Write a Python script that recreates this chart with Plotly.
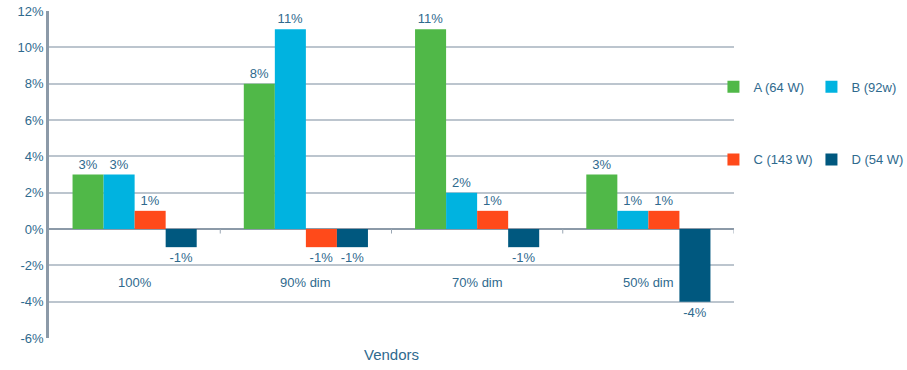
import plotly.graph_objects as go

categories = ["100%", "90% dim", "70% dim", "50% dim"]
series_names = ["A (64 W)", "B (92w)", "C (143 W)", "D (54 W)"]
series_values = {
    "A (64 W)": [3, 8, 11, 3],
    "B (92w)": [3, 11, 2, 1],
    "C (143 W)": [1, -1, 1, 1],
    "D (54 W)": [-1, -1, -1, -4],
}
colors = ["#50B848", "#00B3E0", "#FF4A1A", "#00587F"]
y_ticks = [-6, -4, -2, 0, 2, 4, 6, 8, 10, 12]
y_tick_labels = [f"{v}%" for v in y_ticks]

TEXT = "#2F6A8E"
FONT = "Liberation Sans, Arial, sans-serif"

fig = go.Figure()
for i, name in enumerate(series_names):
    vals = series_values[name]
    fig.add_trace(go.Bar(
        x=categories, y=vals, name=name,
        marker=dict(color=colors[i], line=dict(width=0)),
        text=[f"{v}%" for v in vals], textposition="outside",
        textfont=dict(color=TEXT, size=13, family=FONT),
        cliponaxis=False,
        legend="legend" if i < 2 else "legend2",
    ))

# category labels placed inside the plot, under the zero line
for c in categories:
    fig.add_annotation(x=c, y=-2.95, text=c, showarrow=False,
                       font=dict(color=TEXT, size=13, family=FONT))

# small tick marks at category boundaries on the zero line
for k in range(1, len(categories) + 1):
    fig.add_shape(type="line", xref="x", yref="y", x0=k - 0.5, x1=k - 0.5,
                  y0=0, y1=-0.25, line=dict(color="#9AA7B4", width=1))

fig.update_layout(
    width=907, height=370,
    margin=dict(l=49, r=173, t=11, b=32, autoexpand=False),
    paper_bgcolor="white", plot_bgcolor="white",
    font=dict(family=FONT, color=TEXT, size=13),
    barmode="group", bargap=0.275, bargroupgap=0,
    showlegend=True,
    legend=dict(orientation="h", x=0.97, y=0.768, xanchor="left", yanchor="middle",
                entrywidth=53, entrywidthmode="pixels",
                font=dict(size=13, color=TEXT, family=FONT), bgcolor="rgba(0,0,0,0)"),
    legend2=dict(orientation="h", x=0.97, y=0.546, xanchor="left", yanchor="middle",
                 entrywidth=53, entrywidthmode="pixels",
                 font=dict(size=13, color=TEXT, family=FONT), bgcolor="rgba(0,0,0,0)"),
    xaxis=dict(showticklabels=False, ticks="", showgrid=False, showline=False,
               range=[-0.5, len(categories) - 0.5],
               title=dict(text="Vendors", font=dict(size=15, color=TEXT, family=FONT), standoff=11)),
    yaxis=dict(range=[-6, 12], tickvals=y_ticks, ticktext=y_tick_labels,
               showgrid=True, gridcolor="#BCC5CE", gridwidth=1.5,
               zeroline=True, zerolinecolor="#8C9AA8", zerolinewidth=1.5,
               showline=True, linecolor="#8C9AA8", linewidth=2.5,
               ticks="", tickfont=dict(size=13, color=TEXT, family=FONT)),
)

fig.write_html("out.html")
